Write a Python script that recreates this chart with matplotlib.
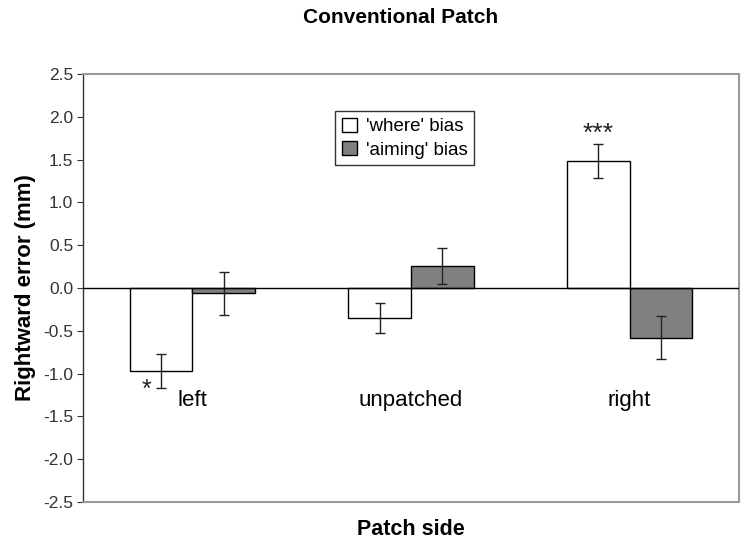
import matplotlib
matplotlib.use("Agg")
import matplotlib.pyplot as plt
import numpy as np

plt.rcParams['font.family'] = ['Liberation Sans', 'DejaVu Sans']

categories = ['left', 'unpatched', 'right']
where_bias = [-0.97, -0.35, 1.48]
where_err = [0.20, 0.17, 0.20]
aiming_bias = [-0.06, 0.26, -0.58]
aiming_err = [0.25, 0.21, 0.25]
series_labels = ["'where' bias", "'aiming' bias"]
yticks = [-2.5, -2.0, -1.5, -1.0, -0.5, 0.0, 0.5, 1.0, 1.5, 2.0, 2.5]

fig = plt.figure(figsize=(7.49, 5.45), dpi=100)
ax = fig.add_axes([83/749, 43/545, 656/749, 428/545])

x = np.arange(len(categories))
w = 0.286
ax.bar(x - w/2, where_bias, w, color='white', edgecolor='black', linewidth=1.0,
       label=series_labels[0], zorder=2)
ax.bar(x + w/2, aiming_bias, w, color='#808080', edgecolor='black', linewidth=1.0,
       label=series_labels[1], zorder=2)
ax.errorbar(x - w/2, where_bias, yerr=where_err, fmt='none', ecolor='#222222',
            elinewidth=1.0, capsize=3.5, capthick=1.0, zorder=3)
ax.errorbar(x + w/2, aiming_bias, yerr=aiming_err, fmt='none', ecolor='#222222',
            elinewidth=1.0, capsize=3.5, capthick=1.0, zorder=3)

ax.axhline(0, color='black', linewidth=1.0, zorder=4)

ax.set_xlim(-0.5, len(categories) - 0.5)
ax.set_ylim(-2.5, 2.5)
ax.set_yticks(yticks)
ax.set_yticklabels([f'{t:.1f}' for t in yticks], fontsize=12.5, color='#333333')
ax.set_xticks([])
ax.tick_params(axis='y', direction='out', length=4, width=0.8, pad=3, colors='#333333')

for i, c in enumerate(categories):
    ax.text(x[i], -1.31, c, ha='center', va='center', fontsize=16, color='black')

# significance markers
ax.text(x[0] - w/2 - 0.065, where_bias[0] - where_err[0] - 0.02, '*', ha='center',
        va='center', fontsize=18, color='#222222')
ax.text(x[2] - w/2, where_bias[2] + where_err[2] + 0.12, '***', ha='center',
        va='center', fontsize=19, color='#222222')

for s in ['top', 'right', 'bottom']:
    ax.spines[s].set_color('#999999')
    ax.spines[s].set_linewidth(1.5)
ax.spines['left'].set_color('#333333')
ax.spines['left'].set_linewidth(1.0)

ax.set_ylabel('Rightward error (mm)', fontsize=16, fontweight='bold', labelpad=5)
ax.set_xlabel('Patch side', fontsize=15.5, fontweight='bold', labelpad=12)
fig.text(0.535, 0.967, 'Conventional Patch', ha='center', va='center',
         fontsize=15, fontweight='bold')

leg = ax.legend(loc='upper left', bbox_to_anchor=(252/656, 1 - 37/428), fontsize=13.5,
                frameon=True, fancybox=False, edgecolor='black', handlelength=0.8,
                handleheight=0.8, handletextpad=0.5, borderpad=0.35, labelspacing=0.3,
                borderaxespad=0)
leg.get_frame().set_linewidth(1.0)

fig.savefig('out.png', dpi=100)
